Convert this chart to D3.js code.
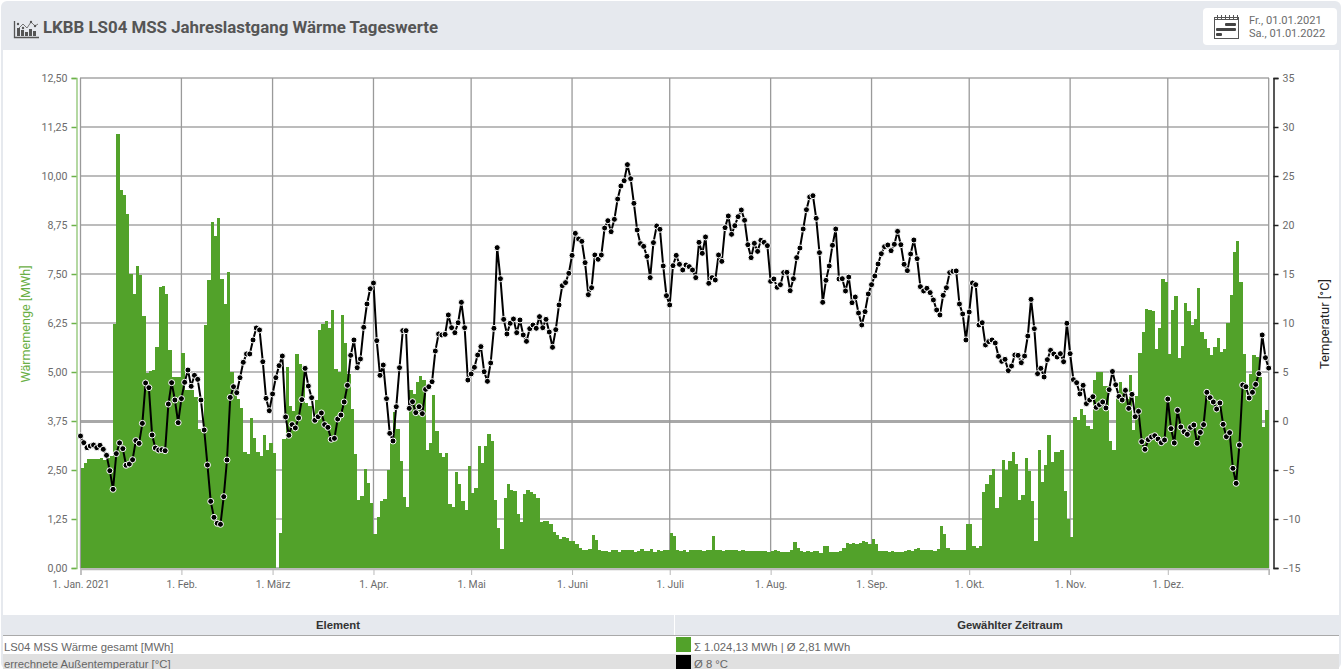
<!DOCTYPE html>
<html><head><meta charset="utf-8">
<script src="https://cdn.jsdelivr.net/npm/d3@7/dist/d3.min.js"></script>
<style>
html,body{margin:0;padding:0;background:#fff;overflow:hidden}
svg{display:block}
text{font-family:Roboto,sans-serif}
</style></head><body>
<svg id="c" width="1342" height="669"></svg>
<script>
const titleText = "LKBB LS04 MSS Jahreslastgang Wärme Tageswerte";
const dateRange = ["Fr., 01.01.2021", "Sa., 01.01.2022"];
const monthLabels = ["1. Jan. 2021","1. Feb.","1. März","1. Apr.","1. Mai","1. Juni","1. Juli","1. Aug.","1. Sep.","1. Okt.","1. Nov.","1. Dez."];
const heatTicks = [0,1.25,2.5,3.75,5,6.25,7.5,8.75,10,11.25,12.5];
const tempTicks = [-15,-10,-5,0,5,10,15,20,25,30,35];
const heat = [
2.55,2.68,2.78,2.78,2.78,2.78,2.8,2.75,2.8,2.85,
6.22,11.07,9.64,9.51,9.03,7.5,6.99,7.7,7.47,6.43,
4.98,5.03,5.05,5.64,7.17,7.19,6.99,5.56,4.88,4.88,
4.88,5.48,4.54,4.54,4.54,4.36,3.54,3.54,6.2,7.35,
8.83,8.47,8.93,7.37,6.73,7.55,5.0,4.6,4.3,4.08,
2.96,2.9,3.83,3.32,2.96,2.86,3.39,3.0,3.18,2.93,
0,.89,3.29,5.14,4.12,4.0,5.46,5.2,5.14,4.2,
4.12,3.78,4.29,6.07,6.22,6.29,6.13,6.58,5.07,5.0,
6.45,5.75,4.95,4.05,2.9,1.73,1.84,2.53,2.18,1.65,
.87,1.31,1.72,1.77,2.5,3.18,3.99,3.55,2.73,1.82,
1.56,4.54,4.44,4.74,4.9,4.8,3.0,3.18,4.41,3.5,
2.94,2.82,2.94,1.63,1.56,2.45,2.14,1.72,1.48,2.6,
1.92,2.05,3.11,2.67,3.1,3.42,3.24,1.73,1.03,.48,
1.79,2.14,2.0,1.96,1.38,1.18,1.89,1.99,1.95,1.88,
1.78,1.17,1.2,1.2,1.12,.91,.84,.74,.79,.76,
.7,.69,.62,.52,.46,.46,.48,.84,.71,.46,
.44,.44,.42,.46,.46,.42,.46,.46,.46,.46,
.42,.44,.48,.43,.43,.48,.42,.46,.43,.46,
.46,.89,.82,.46,.44,.47,.42,.46,.46,.46,
.45,.44,.46,.46,.82,.46,.45,.44,.46,.46,
.46,.45,.43,.45,.44,.44,.44,.44,.44,.44,
.44,.42,.44,.45,.44,.42,.42,.42,.45,.66,
.52,.44,.42,.43,.42,.43,.43,.39,.56,.56,
.41,.41,.42,.43,.52,.64,.62,.65,.62,.63,
.68,.66,.6,.74,.6,.43,.44,.43,.42,.43,
.42,.42,.42,.44,.47,.44,.48,.52,.46,.46,
.45,.47,.44,.48,1.07,.88,.52,.46,.46,.46,
.46,.46,1.11,1.11,.56,.5,.56,1.94,2.14,2.37,
2.53,1.53,1.81,2.76,2.5,2.73,2.96,2.65,1.73,1.86,
2.81,2.47,1.71,.69,3.01,2.19,2.63,3.39,2.7,2.96,
2.96,3.01,1.96,1.25,.79,3.85,3.78,4.06,3.9,3.62,
3.55,4.8,5.0,5.0,4.64,4.64,3.25,3.01,4.41,4.74,
4.54,4.3,4.92,3.52,4.4,5.48,6.02,6.61,6.58,6.56,
5.59,6.12,7.36,7.3,5.46,6.58,6.94,5.36,5.66,6.76,
6.56,6.2,6.34,7.14,6.02,5.84,5.61,5.43,5.64,5.87,
5.51,5.59,6.25,6.96,8.06,8.34,7.3,5.46,4.4,4.95,
5.43,5.39,4.88,3.6,4.03];
const temperature = [
-1.53,-2.21,-2.72,-2.55,-2.45,-2.72,-2.48,-2.89,-3.5,-5.07,
-6.97,-3.33,-2.24,-2.82,-4.52,-4.39,-3.95,-2.0,-2.28,-.24,
3.88,3.4,-1.43,-2.76,-2.96,-2.93,-3.03,1.73,3.91,2.14,
-.17,2.28,3.95,5.2,3.54,4.66,4.25,2.14,-.92,-4.49,
-8.2,-9.83,-10.44,-10.54,-7.72,-3.98,2.41,3.5,2.89,4.42,
5.99,6.84,6.84,8.27,9.49,9.29,6.05,2.31,1.05,2.76,
4.42,5.65,6.63,.41,-1.46,-.37,-.71,.31,2.18,5.37,
3.57,2.38,.07,.44,.82,-.37,-.65,-1.87,-1.77,.2,
.61,1.94,3.64,6.7,8.27,5.44,6.33,9.56,11.94,13.5,
14.08,8.2,4.66,5.71,2.28,-1.26,-2.04,1.46,5.44,9.22,
9.22,1.29,1.97,.85,1.46,.75,3.23,3.5,4.01,7.14,
8.88,8.78,8.84,10.82,9.52,9.01,10.03,12.11,9.52,4.18,
4.8,5.48,6.73,7.59,5.03,4.05,5.92,9.46,17.69,14.52,
10.37,8.88,9.97,10.41,9.01,10.31,8.78,8.13,9.42,9.8,
9.46,10.65,9.52,10.37,9.08,7.52,9.32,11.84,13.81,14.12,
15.07,16.9,19.15,18.57,18.33,16.16,12.89,13.6,16.94,16.5,
16.94,19.69,20.44,19.32,20.58,22.65,23.98,24.52,26.16,24.73,
22.21,19.49,18.1,17.82,16.8,14.63,18.2,19.9,19.56,15.82,
12.79,11.84,15.85,16.9,15.99,15.41,15.92,15.75,15.41,14.63,
18.23,17.11,18.78,14.05,14.63,14.39,16.94,16.29,19.73,20.92,
19.05,19.93,20.85,21.53,20.48,17.99,16.67,18.13,17.31,18.44,
18.23,17.89,14.25,14.49,13.64,13.91,15.14,15.17,13.3,14.52,
16.67,17.65,19.59,21.56,22.86,22.99,20.68,17.18,12.11,14.35,
15.82,17.93,19.59,14.49,14.52,13.27,14.69,12.07,12.65,11.02,
9.8,11.16,12.96,13.91,14.8,16.02,17.07,17.79,17.96,17.38,
18.03,19.35,17.99,15.99,15.34,17.04,18.47,16.56,13.71,13.27,
13.54,13.1,12.35,11.33,10.82,12.82,13.6,15.14,15.27,15.31,
11.94,10.92,8.27,11.12,14.08,13.91,9.8,10.03,7.76,8.1,
8.27,7.96,6.6,6.09,6.29,5.14,5.61,6.73,6.7,5.95,
6.63,8.67,12.41,9.42,4.83,5.37,4.49,6.26,7.21,6.84,
6.53,6.87,6.05,9.97,6.87,4.22,3.91,2.76,3.64,1.77,
2.14,2.48,1.39,1.67,1.94,1.33,3.2,5.05,3.7,2.5,
2.14,3.13,1.29,2.72,.44,.99,-2.11,-2.89,-1.9,-1.63,
-1.5,-1.84,-2.21,-1.94,2.24,-.78,-2.24,1.09,-.61,-1.09,
-1.36,-.65,-.41,-2.28,-1.16,-.37,2.93,2.38,1.94,1.22,
1.84,-.34,-1.6,-1.19,-4.83,-6.36,-2.45,3.67,3.5,2.35,
2.93,3.74,4.83,8.78,6.46,5.4];
const tableHeader = ["Element","Gewählter Zeitraum"];
const tableNames = ["LS04 MSS Wärme gesamt [MWh]","errechnete Außentemperatur [°C]"];
const tableValues = ["Σ 1.024,13 MWh | Ø 2,81 MWh","Ø 8 °C"];

const GREEN="#52a22a", TXT="#6b6b6b";
const W=1342,H=669, L=80.5,R=1268.7,T=78,B=568;
const svg=d3.select("#c");
const t0=new Date(Date.UTC(2021,0,1)), t1=new Date(Date.UTC(2022,0,1));
const days=d3.utcDay.range(t0,d3.utcDay.offset(t1,1));
const months=d3.utcMonth.range(t0,t1);
const x=d3.scaleUtc().domain([t0,t1]).range([L,R]);
const yH=d3.scaleLinear().domain([0,12.5]).range([B,T]);
const yT=d3.scaleLinear().domain([-15,35]).range([B,T]);

// page frame
svg.append("rect").attr("x",1).attr("y",1).attr("width",1340).attr("height",668).attr("fill","#e6e9ee").attr("rx",6);
svg.append("rect").attr("x",3).attr("y",50).attr("width",1336).attr("height",619).attr("fill","#fff");

// header
svg.append("text").attr("x",43).attr("y",33).attr("font-size",16.85).attr("font-weight",700).attr("fill","#555").text(titleText);
const ic=svg.append("g");
ic.append("path").attr("d","M14.5 21V37.5H39").attr("stroke","#555").attr("stroke-width",1.3).attr("fill","none");
ic.append("path").attr("d","M18 29L23 24L27 28L31 22L35 26L38 24").attr("stroke","#777").attr("stroke-width",1).attr("fill","none");
[[18,24],[23,28],[31,22],[35,26]].forEach(d=>ic.append("circle").attr("cx",d[0]).attr("cy",d[1]).attr("r",1.2).attr("fill","#555"));
[[17,28],[21,30],[25,32],[29,29],[33,31]].forEach(d=>
  ic.append("rect").attr("x",d[0]).attr("y",d[1]).attr("width",3).attr("height",36-d[1]).attr("fill","#555"));
svg.append("rect").attr("x",1203).attr("y",8).attr("width",134).attr("height",37).attr("rx",4).attr("fill","#fff");
const cal=svg.append("g");
cal.append("rect").attr("x",1214.5).attr("y",17.5).attr("width",24).attr("height",21).attr("fill","none").attr("stroke","#555");
cal.append("path").attr("d","M1214 19.5H1239").attr("stroke","#555").attr("stroke-width",1);
[1217,1221,1225,1229,1233,1237].forEach(v=>cal.append("path").attr("d",`M${v}.5 15V19`).attr("stroke","#555"));
[[1225,23,11],[1216,28,20],[1216,33,6]].forEach(d=>
  cal.append("rect").attr("x",d[0]).attr("y",d[1]).attr("width",d[2]).attr("height",3).attr("rx",1).attr("fill","#444"));
dateRange.forEach((s,i)=>svg.append("text").attr("x",1249).attr("y",24+i*13).attr("font-size",11.1).attr("fill","#6b6b6b").text(s));

// grid
const grid=svg.append("g");
heatTicks.forEach(v=>grid.append("line").attr("x1",L-1).attr("x2",R).attr("y1",yH(v)).attr("y2",yH(v))
  .attr("stroke","#bcbcbc").attr("stroke-width",2).attr("shape-rendering","crispEdges"));
grid.append("line").attr("x1",L-1).attr("x2",R).attr("y1",yT(0)).attr("y2",yT(0)).attr("stroke","#a8a8a8").attr("stroke-width",3).attr("shape-rendering","crispEdges");
months.slice(1).concat([t0,t1]).forEach(m=>grid.append("line").attr("x1",x(m)).attr("x2",x(m)).attr("y1",T).attr("y2",B)
  .attr("stroke","#9a9a9a").attr("stroke-width",1.3));

// bars
svg.append("g").selectAll("rect").data(heat).join("rect")
  .attr("x",(d,i)=>Math.round(x(days[i])))
  .attr("width",(d,i)=>Math.round(x(days[i+1]))-Math.round(x(days[i])))
  .attr("y",d=>yH(d)).attr("height",d=>B-yH(d))
  .attr("fill",GREEN).attr("shape-rendering","crispEdges");

// axes
const axB=d3.axisBottom(x).tickValues(months.concat([t1])).tickSize(6).tickFormat((d,i)=>monthLabels[i]||"");
const gB=svg.append("g").attr("transform",`translate(0,${B+1})`).call(axB);
gB.select(".domain").attr("stroke","#b9b9b9").attr("stroke-width",1.5);
gB.selectAll(".tick line").attr("stroke","#b9b9b9");
gB.selectAll("text").attr("font-size",10.4).attr("fill",TXT).attr("font-family","Roboto").attr("dy","1em");

const axL=d3.axisLeft(yH).tickValues(heatTicks).tickSize(5).tickPadding(4).tickFormat(d=>d3.format(".2f")(d).replace(".",","));
const gL=svg.append("g").attr("transform","translate(76.5,0)").call(axL);
gL.select(".domain").attr("stroke","#9ccc84").attr("stroke-width",1.5);
gL.selectAll(".tick line").attr("stroke","#6cb24a").attr("stroke-width",1.5);
gL.selectAll("text").attr("font-size",10.6).attr("fill",TXT).attr("font-family","Roboto");

const axR=d3.axisRight(yT).tickValues(tempTicks).tickSize(5).tickPadding(4);
const gR=svg.append("g").attr("transform","translate(1273.5,0)").call(axR);
gR.select(".domain").attr("stroke","#222").attr("stroke-width",1.5);
gR.selectAll(".tick line").attr("stroke","#222").attr("stroke-width",1.5);
gR.selectAll("text").attr("font-size",10.6).attr("fill",TXT).attr("font-family","Roboto");

svg.append("text").attr("transform","translate(30,324) rotate(-90)").attr("text-anchor","middle").attr("font-size",12.6).attr("fill","#6aaf45").text("Wärmemenge [MWh]");
svg.append("text").attr("transform","translate(1329,324) rotate(-90)").attr("text-anchor","middle").attr("font-size",13).attr("fill","#222").text("Temperatur [°C]");

// temperature
const lineGen=d3.line().x((d,i)=>x(days[i])).y(d=>yT(d));
svg.append("path").datum(temperature).attr("d",lineGen).attr("fill","none").attr("stroke","#000").attr("stroke-width",2);
svg.append("g").selectAll("circle").data(temperature).join("circle")
  .attr("cx",(d,i)=>x(days[i])).attr("cy",d=>yT(d)).attr("r",3)
  .attr("fill","#000").attr("stroke","#fff").attr("stroke-width",1);

// table
svg.append("rect").attr("x",3).attr("y",615).attr("width",1336).attr("height",20).attr("fill","#e6e9ee");
svg.append("rect").attr("x",3).attr("y",635).attr("width",1336).attr("height",1).attr("fill","#a9a9a9");
svg.append("rect").attr("x",674).attr("y",615).attr("width",1).attr("height",20).attr("fill","#fff");
svg.append("rect").attr("x",3).attr("y",654).attr("width",1336).attr("height",15).attr("fill","#e0e0e0");
[338,1010].forEach((cx,i)=>svg.append("text").attr("x",cx).attr("y",629).attr("text-anchor","middle")
  .attr("font-size",11.3).attr("font-weight",700).attr("fill","#333").style("font-family","'Liberation Sans'").text(tableHeader[i]));
tableNames.forEach((s,i)=>svg.append("text").attr("x",4).attr("y",651+i*16.5).attr("font-size",11.3).attr("fill","#666").style("font-family","'Liberation Sans'").text(s));
[GREEN,"#000"].forEach((c,i)=>svg.append("rect").attr("x",676).attr("y",637+i*18).attr("width",15).attr("height",15).attr("fill",c));
tableValues.forEach((s,i)=>svg.append("text").attr("x",694).attr("y",651+i*16.5).attr("font-size",11.3).attr("fill","#666").style("font-family","'Liberation Sans'").text(s));
</script>
</body></html>
